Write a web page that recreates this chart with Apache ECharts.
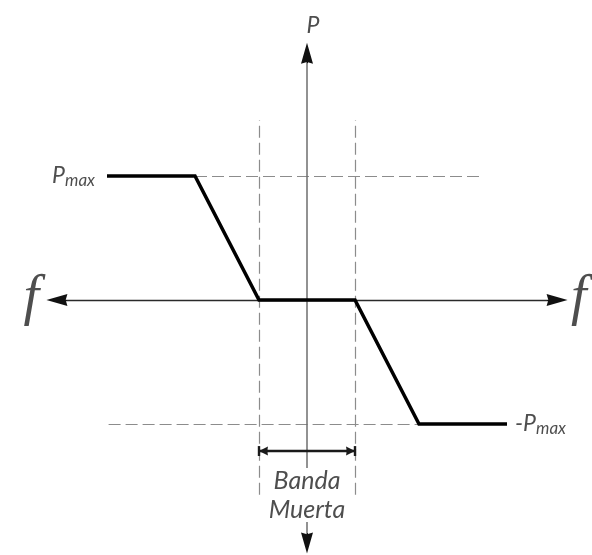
<!DOCTYPE html>
<html>
<head>
<meta charset="utf-8">
<script src="https://cdn.jsdelivr.net/npm/echarts@6/dist/echarts.min.js"></script>
<style>
  html, body { margin: 0; padding: 0; background: #fff; }
  #chart { width: 592px; height: 555px; }
</style>
</head>
<body>
<div id="chart"></div>
<script>
// curva potencia-frecuencia con banda muerta (f en unidades arbitrarias, P en p.u.)
const bandaMuerta = [-3, 3];
const pMax = 1;
const curvaF = [-12.5, -7, -3, 3, 7, 12.5];
const curvaP = [1, 1, 0, 0, -1, -1];

// ejes
const ejeF = [-16.25, 16.25];
const ejeP = [-2.04, 2.07];
const huecoTexto = [-1.79, -1.355]; // tramo del eje P que tapa el texto

// guias discontinuas
const guiaVertical = [-1.57, 1.45];
const guiaSuperior = [-7, 10.8];
const guiaInferior = [-12.4, 7];
const cotaP = -1.218; // altura de la cota de banda muerta

const fuente = 'Lato';
const flecha = 'path://M5,0 L10,18 L5,16.5 L0,18 Z';
// el simbolo va centrado en el extremo: se retrasa media flecha
const medioF = 0.62, medioP = 0.08, medioCota = 0.28;

const chart = echarts.init(document.getElementById('chart'));

const seg = (a, b, s1, s2) => [
  { coord: a, symbol: s1 },
  { coord: b, symbol: s2 }
];

const option = {
  animation: false,
  grid: { left: 27, right: 5, top: 14.8, bottom: 0.8 },
  xAxis: { type: 'value', min: -17.5, max: 17.5, show: false },
  yAxis: { type: 'value', min: -2.05, max: 2.3, show: false },
  series: [
    // lineas guia discontinuas
    {
      type: 'line',
      data: [],
      markLine: {
        silent: true,
        symbol: 'none',
        label: { show: false },
        lineStyle: { color: '#8c8c8c', width: 1.2, type: [12, 5] },
        data: [
          seg([bandaMuerta[0], guiaVertical[0]], [bandaMuerta[0], guiaVertical[1]], 'none', 'none'),
          seg([bandaMuerta[1], guiaVertical[0]], [bandaMuerta[1], guiaVertical[1]], 'none', 'none'),
          seg([guiaSuperior[0], pMax], [guiaSuperior[1], pMax], 'none', 'none'),
          seg([guiaInferior[0], -pMax], [guiaInferior[1], -pMax], 'none', 'none')
        ]
      }
    },
    // eje f
    {
      type: 'line',
      data: [],
      markLine: {
        silent: true,
        symbol: 'none',
        label: { show: false },
        lineStyle: { color: '#2a2a2a', width: 1.3, type: 'solid' },
        data: [seg([ejeF[0] + medioF, 0], [ejeF[1] - medioF, 0], 'none', 'none')]
      }
    },
    // eje P (partido por el texto)
    {
      type: 'line',
      data: [],
      markLine: {
        silent: true,
        symbol: 'none',
        label: { show: false },
        lineStyle: { color: '#6e6e6e', width: 1.5, type: 'solid' },
        data: [
          seg([0, huecoTexto[1]], [0, ejeP[1] - medioP], 'none', 'none'),
          seg([0, huecoTexto[0]], [0, ejeP[0] + medioP], 'none', 'none')
        ]
      }
    },
    // puntas de flecha de los ejes
    {
      type: 'line',
      data: [],
      markLine: {
        silent: true,
        label: { show: false },
        symbolSize: [12, 21],
        lineStyle: { color: '#111', width: 1, type: 'solid' },
        data: [
          seg([ejeF[0] + 2 * medioF, 0], [ejeF[0] + medioF, 0], 'none', flecha),
          seg([ejeF[1] - 2 * medioF, 0], [ejeF[1] - medioF, 0], 'none', flecha),
          seg([0, ejeP[1] - 2 * medioP], [0, ejeP[1] - medioP], 'none', flecha),
          seg([0, ejeP[0] + 2 * medioP], [0, ejeP[0] + medioP], 'none', flecha)
        ]
      }
    },
    // cota banda muerta
    {
      type: 'line',
      data: [],
      markLine: {
        silent: true,
        symbol: 'none',
        label: { show: false },
        symbolSize: [9, 9],
        lineStyle: { color: '#1a1a1a', width: 2.4, type: 'solid' },
        data: [
          seg([bandaMuerta[0], cotaP], [bandaMuerta[1], cotaP], 'none', 'none'),
          seg([bandaMuerta[0] + 2 * medioCota, cotaP], [bandaMuerta[0] + medioCota, cotaP], 'none', flecha),
          seg([bandaMuerta[1] - 2 * medioCota, cotaP], [bandaMuerta[1] - medioCota, cotaP], 'none', flecha),
          seg([bandaMuerta[0], cotaP - 0.04], [bandaMuerta[0], cotaP + 0.04], 'none', 'none'),
          seg([bandaMuerta[1], cotaP - 0.04], [bandaMuerta[1], cotaP + 0.04], 'none', 'none')
        ]
      }
    },
    // curva
    {
      type: 'line',
      data: curvaF.map((f, i) => [f, curvaP[i]]),
      symbol: 'none',
      z: 5,
      lineStyle: { color: '#000', width: 3.5, join: 'miter' }
    },
    // textos
    {
      type: 'scatter',
      symbolSize: 0,
      silent: true,
      label: {
        show: true,
        color: '#222',
        fontFamily: fuente,
        fontStyle: 'italic',
        fontSize: 23
      },
      data: [
        { value: [0, ejeP[1]], label: { formatter: 'P', position: 'top', distance: 6, offset: [6, 0] } },
        {
          value: [ejeF[0], 0],
          label: { formatter: 'f', position: 'left', distance: 6, fontFamily: 'Liberation Serif', fontSize: 56, offset: [-2, -1] }
        },
        {
          value: [ejeF[1], 0],
          label: { formatter: 'f', position: 'right', distance: 4, fontFamily: 'Liberation Serif', fontSize: 56, offset: [0, -1] }
        },
        {
          value: [curvaF[0], pMax],
          label: {
            formatter: '{p|P}{s|max}', position: 'left', distance: 12,
            rich: {
              p: { fontFamily: fuente, fontStyle: 'italic', fontSize: 23, color: '#222' },
              s: { fontFamily: fuente, fontStyle: 'italic', fontSize: 17, color: '#222', padding: [9, 0, 0, 0] }
            }
          }
        },
        {
          value: [curvaF[curvaF.length - 1], -pMax],
          label: {
            formatter: '{p|-P}{s|max}', position: 'right', distance: 8,
            rich: {
              p: { fontFamily: fuente, fontStyle: 'italic', fontSize: 23, color: '#222' },
              s: { fontFamily: fuente, fontStyle: 'italic', fontSize: 17, color: '#222', padding: [9, 0, 0, 0] }
            }
          }
        },
        {
          value: [0, cotaP],
          label: { formatter: 'Banda\nMuerta', position: 'bottom', distance: 15, fontSize: 25, lineHeight: 29, align: 'center' }
        }
      ]
    }
  ]
};

chart.setOption(option);
</script>
</body>
</html>
